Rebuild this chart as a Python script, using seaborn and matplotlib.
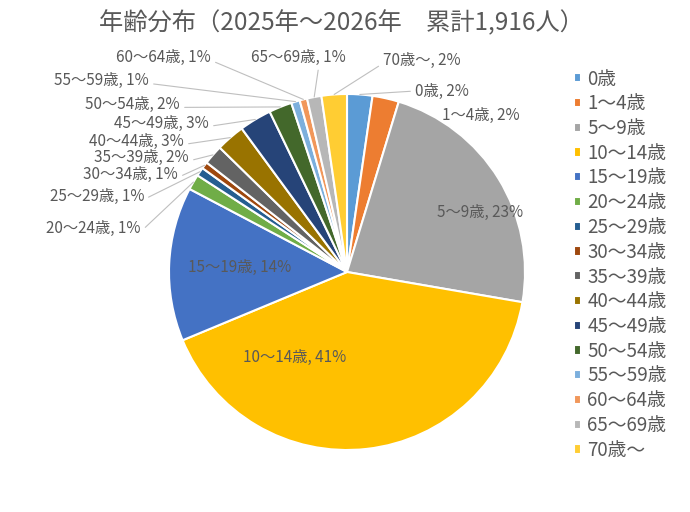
import matplotlib.pyplot as plt
import seaborn as sns
import numpy as np

# age groups and head counts (total 1,916)
age_groups = ['0歳', '1～4歳', '5～9歳', '10～14歳', '15～19歳', '20～24歳',
              '25～29歳', '30～34歳', '35～39歳', '40～44歳', '45～49歳',
              '50～54歳', '55～59歳', '60～64歳', '65～69歳', '70歳～']
counts = [44, 46, 441, 786, 268, 27, 15, 12, 34, 50, 56, 40, 15, 13, 25, 44]
title = '年齢分布（2025年～2026年　累計1,916人）'

colors = ['#5B9BD5', '#ED7D31', '#A5A5A5', '#FFC000', '#4472C4', '#70AD47',
          '#255E91', '#9E480E', '#636363', '#997300', '#264478', '#43682B',
          '#7CAFDD', '#F1975A', '#B7B7B7', '#FFCD33']

# label placement in pixels (x, y, ha, leader start on text bbox)
label_layout = [
    (415, 91, 'left', (0, 0.5)),
    (442, 115, 'left', None),
    (480, 212, 'center', None),
    (295, 357, 'center', None),
    (240, 267, 'center', None),
    (141, 228, 'right', (1, 0.3)),
    (144, 196, 'right', (1, 0.3)),
    (178, 174, 'right', (1, 0.3)),
    (189, 157.5, 'right', (1, 0.3)),
    (184, 141, 'right', (1, 0.3)),
    (209, 123, 'right', (1, 0.3)),
    (180, 104, 'right', (1, 0.3)),
    (149, 80, 'right', (1, 0.3)),
    (211, 57, 'right', (1, 0.3)),
    (298, 57, 'center', (0.72, 0)),
    (383, 60, 'left', (0, 0.3)),
]

sns.set_theme(style='white')
plt.rcParams['font.family'] = ['Noto Sans CJK JP', 'DejaVu Sans']
text_color = '#595959'

W, H = 690, 512
cx, cy, r = 347, 272, 178
fig = plt.figure(figsize=(W / 100, H / 100), dpi=100)
ax = fig.add_axes([(cx - r) / W, (H - cy - r) / H, 2 * r / W, 2 * r / H])

wedges, _ = ax.pie(counts, colors=sns.color_palette(colors), startangle=90,
                   counterclock=False, radius=1,
                   wedgeprops=dict(edgecolor='white', linewidth=1.5))
ax.set_xlim(-1, 1)
ax.set_ylim(-1, 1)
ax.axis('off')

total = sum(counts)
for w, name, n, (px, py, ha, rel) in zip(wedges, age_groups, counts, label_layout):
    pct = round(n / total * 100)
    txt = f'{name}, {pct}%'
    tx = (px - cx) / r
    ty = (cy - py) / r
    if rel is None:
        ax.text(tx, ty, txt, ha=ha, va='center', fontsize=11,
                color=text_color)
    else:
        ang = np.deg2rad((w.theta1 + w.theta2) / 2)
        ax.annotate(txt, xy=(np.cos(ang), np.sin(ang)), xytext=(tx, ty),
                    ha=ha, va='center', fontsize=11, color=text_color,
                    annotation_clip=False,
                    arrowprops=dict(arrowstyle='-', color='#BFBFBF', lw=0.8,
                                    relpos=rel, shrinkA=1, shrinkB=0))

fig.text(341 / W, 1 - 23 / H, title, ha='center', va='center',
         fontsize=17.5, color=text_color)

leg = fig.legend(wedges, age_groups, loc='upper left',
                 bbox_to_anchor=(566 / W, 1 - 61 / H), frameon=False,
                 fontsize=13.5, handlelength=0.38, handleheight=0.38,
                 handletextpad=0.35, labelspacing=0.2, borderaxespad=0)
for t in leg.get_texts():
    t.set_color(text_color)

fig.savefig('out.png', dpi=100)
